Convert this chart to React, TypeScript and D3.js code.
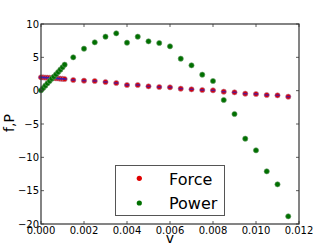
import React, { useEffect, useRef } from 'react';
import * as d3 from 'd3';

// sampled velocities and measured force / power
const denseV = [0, 0.0001, 0.0002, 0.0003, 0.0004, 0.0005, 0.0006, 0.0007, 0.0008, 0.0009, 0.001, 0.0011];
const denseForce = [2.0, 1.98, 1.96, 1.95, 1.93, 1.9, 1.88, 1.85, 1.83, 1.8, 1.78, 1.75];
const densePower = [0.05, 0.4, 0.75, 1.1, 1.45, 1.8, 2.1, 2.45, 2.8, 3.15, 3.5, 3.9];

const sparseV = [0.0015, 0.002, 0.0025, 0.003, 0.0035, 0.004, 0.0045, 0.005, 0.0055, 0.006, 0.0065,
  0.007, 0.0075, 0.008, 0.0085, 0.009, 0.0095, 0.01, 0.0105, 0.011, 0.0115];
const sparseForce = [1.6, 1.5, 1.45, 1.3, 1.15, 0.85, 0.85, 0.65, 0.55, 0.5, 0.3,
  0.2, 0.1, 0.05, -0.15, -0.25, -0.45, -0.5, -0.65, -0.7, -0.9];
const sparsePower = [5.0, 6.3, 7.25, 8.1, 8.6, 7.2, 8.1, 7.4, 7.15, 6.65, 4.8,
  3.8, 2.4, 1.45, -1.4, -3.5, -7.2, -8.95, -12.1, -14.05, -18.85];

const xTicks = [0, 0.002, 0.004, 0.006, 0.008, 0.01, 0.012];
const yTicks = [10, 5, 0, -5, -10, -15, -20];

const FONT = 'DejaVu Sans, sans-serif';

const drawChart = (svgEl: SVGSVGElement) => {
  const svg = d3.select(svgEl);
  svg.selectAll('*').remove();

  const margin = { top: 24, right: 33, bottom: 25, left: 41 };
  const width = 332 - margin.left - margin.right;
  const height = 249 - margin.top - margin.bottom;

  const x = d3.scaleLinear().domain([0, 0.012]).range([0, width]);
  const y = d3.scaleLinear().domain([-20, 10]).range([height, 0]);

  const g = svg.append('g').attr('transform', `translate(${margin.left},${margin.top})`);

  const force = denseV.map((v, i) => ({ v, f: denseForce[i] }))
    .concat(sparseV.map((v, i) => ({ v, f: sparseForce[i] })));
  const power = denseV.map((v, i) => ({ v, f: densePower[i] }))
    .concat(sparseV.map((v, i) => ({ v, f: sparsePower[i] })));

  // force: red dots with blue overlay
  g.selectAll('.force').data(force).enter().append('circle')
    .attr('cx', d => x(d.v)).attr('cy', d => y(d.f)).attr('r', 2.6)
    .attr('fill', '#e00000').attr('stroke', '#b080a0').attr('stroke-width', 0.6);
  g.selectAll('.forceb').data(force).enter().append('rect')
    .attr('x', d => x(d.v) - 2.2).attr('y', d => y(d.f) - 0.8)
    .attr('width', 4.4).attr('height', 1.6)
    .attr('fill', '#2020d0').attr('opacity', 0.65);

  g.selectAll('.power').data(power).enter().append('circle')
    .attr('cx', d => x(d.v)).attr('cy', d => y(d.f)).attr('r', 2.6)
    .attr('fill', '#007000').attr('stroke', '#6a9a6a').attr('stroke-width', 0.6);

  const axisColor = '#333';
  // frame
  g.append('rect').attr('x', 0).attr('y', 0).attr('width', width).attr('height', height)
    .attr('fill', 'none').attr('stroke', axisColor).attr('stroke-width', 1.2);

  // ticks inside on all sides
  xTicks.forEach(t => {
    g.append('line').attr('x1', x(t)).attr('x2', x(t)).attr('y1', height).attr('y2', height - 3)
      .attr('stroke', axisColor).attr('stroke-width', 0.8);
    g.append('line').attr('x1', x(t)).attr('x2', x(t)).attr('y1', 0).attr('y2', 3)
      .attr('stroke', axisColor).attr('stroke-width', 0.8);
    g.append('text').attr('x', x(t)).attr('y', height + 9.5)
      .attr('text-anchor', 'middle').attr('font-family', FONT).attr('font-size', 10)
      .text(d3.format('.3f')(t));
  });
  yTicks.forEach(t => {
    g.append('line').attr('x1', 0).attr('x2', 3).attr('y1', y(t)).attr('y2', y(t))
      .attr('stroke', axisColor).attr('stroke-width', 0.8);
    g.append('line').attr('x1', width).attr('x2', width - 3).attr('y1', y(t)).attr('y2', y(t))
      .attr('stroke', axisColor).attr('stroke-width', 0.8);
    g.append('text').attr('x', -2).attr('y', y(t) + 3.5)
      .attr('text-anchor', 'end').attr('font-family', FONT).attr('font-size', 10)
      .text(t < 0 ? `\u2212${-t}` : `${t}`);
  });

  // axis labels
  svg.append('text').attr('x', margin.left + width / 2).attr('y', 243)
    .attr('text-anchor', 'middle').attr('font-family', FONT).attr('font-size', 14).text('v');
  svg.append('text').attr('transform', `translate(14,${margin.top + 99}) rotate(-90)`)
    .attr('text-anchor', 'middle').attr('font-family', FONT).attr('font-size', 14).text('f,P');

  // legend
  const lg = svg.append('g');
  lg.append('rect').attr('x', 115.5).attr('y', 165.5).attr('width', 109).attr('height', 50)
    .attr('fill', 'white').attr('stroke', '#555').attr('stroke-width', 1);
  lg.append('circle').attr('cx', 139.3).attr('cy', 178.3).attr('r', 2.6).attr('fill', '#e00000');
  lg.append('circle').attr('cx', 139.3).attr('cy', 203).attr('r', 2.6).attr('fill', '#007000');
  lg.append('text').attr('x', 169).attr('y', 184.5).attr('font-family', FONT).attr('font-size', 16).text('Force');
  lg.append('text').attr('x', 169).attr('y', 209).attr('font-family', FONT).attr('font-size', 16).text('Power');
};

const App = () => {
  const ref = useRef<SVGSVGElement>(null);
  useEffect(() => {
    if (ref.current) drawChart(ref.current);
  }, []);
  return (
    <svg ref={ref} width={332} height={249}
      style={{ position: 'absolute', left: 0, top: 0, background: 'white' }} />
  );
};

export default App;
